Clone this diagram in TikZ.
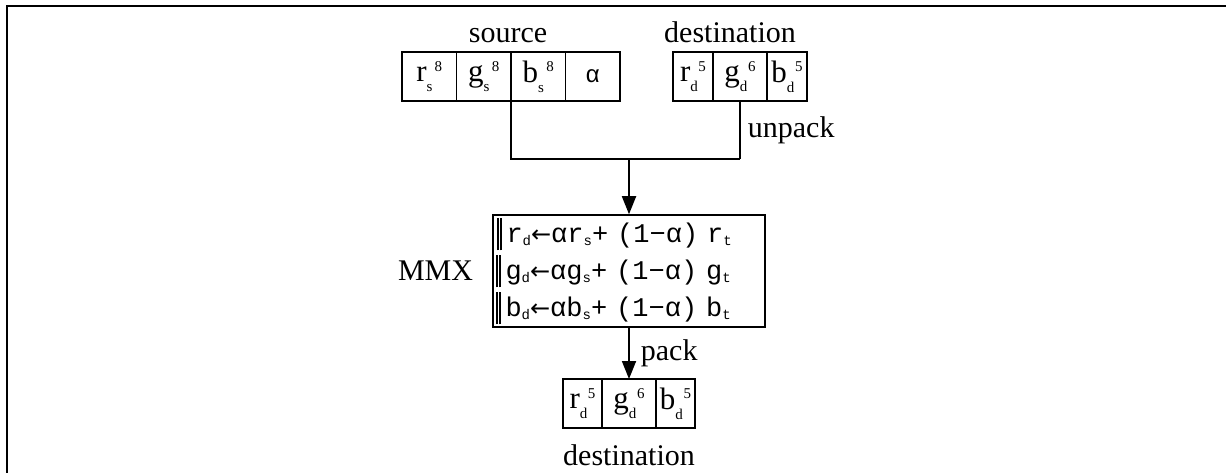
\documentclass[tikz,border=0pt]{standalone}
\usepackage{fontspec}
\setmainfont{Liberation Serif}
\setmonofont{Liberation Mono}
\newfontfamily\symfont{Liberation Sans}
\newfontfamily\arrfont{DejaVu Sans}
\usetikzlibrary{arrows.meta}

% channel with bit count
\newcommand{\chan}[3]{#1\rlap{\raisebox{-.32em}{\fontsize{15}{15}\selectfont #2}}\kern.26em\raisebox{.34em}{\fontsize{15}{15}\selectfont #3}}
% small index in the MMX lines
\newcommand{\idx}[1]{\raisebox{-.1em}{\fontsize{14}{14}\selectfont #1}}
\newcommand{\dbar}{\kern1pt\rule[-.3em]{1.6pt}{1.22em}\kern1.8pt\rule[-.3em]{1.6pt}{1.22em}\kern4.5pt}
\newcommand{\getsarr}{{\arrfont\fontsize{24}{24}\selectfont ←}}

\tikzset{
  cell/.style={draw, line width=1.5pt, inner sep=0pt, outer sep=0pt,
    minimum height=49pt, font=\fontsize{31}{31}\selectfont},
  lbl/.style={inner sep=0pt, font=\fontsize{30}{30}\selectfont},
  wire/.style={line width=1.8pt},
  arr/.style={wire, -{Triangle[width=14pt, length=18pt]}}
}

\begin{document}
\begin{tikzpicture}[x=1pt, y=-1pt]
\useasboundingbox (0,0) rectangle (1226,473);
\draw[line width=2pt] (7,473) -- (7,6) -- (1226,6);

% source
\node[cell, minimum width=54.5pt] (sr) at (429.25,76.5) {\chan{r}{s}{8}};
\node[cell, minimum width=54.5pt] (sg) at (483.75,76.5) {\chan{g}{s}{8}};
\node[cell, minimum width=54.5pt] (sb) at (538.25,76.5) {\chan{b}{s}{8}};
\node[cell, minimum width=54.5pt, font=\fontsize{24}{24}\symfont] (sa) at (592.75,76.5) {α};
\node[lbl, anchor=base] (src) at (508,43) {source};

% destination (in)
\node[cell, minimum width=40pt] (dr) at (693,76.5) {\chan{r}{d}{5}};
\node[cell, minimum width=54pt] (dg) at (740,76.5) {\chan{g}{d}{6}};
\node[cell, minimum width=40pt] (db) at (787,76.5) {\chan{b}{d}{5}};
\node[lbl, anchor=base] (dst) at (730,43) {destination};

% blend
\node[draw, line width=1.5pt, text width=266pt, inner xsep=3pt, inner ysep=2pt,
  minimum height=112pt, align=left, font=\ttfamily\fontsize{27}{36}\selectfont]
  (mmx) at (629,271)
  {\dbar r\idx{d}\getsarr αr\idx{s}+ (1−α) r\idx{t}\\
   \dbar g\idx{d}\getsarr αg\idx{s}+ (1−α) g\idx{t}\\
   \dbar b\idx{d}\getsarr αb\idx{s}+ (1−α) b\idx{t}};
\node[lbl, anchor=east] (mmxl) at ([xshift=-19pt]mmx.west) {MMX};

% destination (out)
\node[cell, minimum width=39pt] (or) at (582.5,403.5) {\chan{r}{d}{5}};
\node[cell, minimum width=54pt] (og) at (629,403.5) {\chan{g}{d}{6}};
\node[cell, minimum width=39pt] (ob) at (675.5,403.5) {\chan{b}{d}{5}};
\node[lbl, anchor=base] (odst) at (629,465) {destination};

\coordinate (jl) at (511,159);
\coordinate (jm) at (629,159);
\coordinate (jr) at (740,159);

\draw[wire] (sb.south west) -- (jl) -- (jr);
\draw[wire] (dg.south) -- node[lbl, right, xshift=7pt] {unpack} (jr);
\draw[arr] (jm) -- (mmx.north);
\draw[arr] (mmx.south) -- node[lbl, right, xshift=11pt] {pack} (og.north);
\end{tikzpicture}
\end{document}
